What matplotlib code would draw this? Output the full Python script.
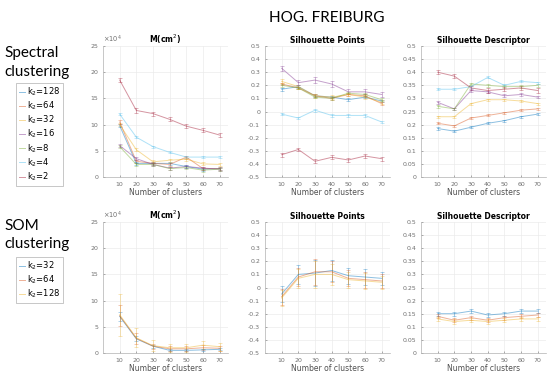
import numpy as np
from matplotlib import pyplot as plt

plt.rcParams['font.family'] = ['DejaVu Sans']

clusters = [10, 20, 30, 40, 50, 60, 70]

spec_labels = ['k$_2$=128', 'k$_2$=64', 'k$_2$=32', 'k$_2$=16', 'k$_2$=8', 'k$_2$=4', 'k$_2$=2']
som_labels = ['k$_2$=32', 'k$_2$=64', 'k$_2$=128']

# spectral clustering, M in units of 1e4 cm^2
spec_mass = [
    [9.8, 2.6, 2.6, 2.6, 2.0, 1.5, 1.6],
    [10.5, 3.0, 2.6, 2.4, 3.8, 1.6, 1.6],
    [10.0, 5.2, 2.9, 3.2, 3.4, 2.5, 2.4],
    [6.0, 3.5, 2.4, 1.7, 2.0, 1.7, 1.5],
    [5.8, 2.4, 2.4, 1.6, 1.8, 1.3, 1.5],
    [12.0, 7.6, 5.8, 4.7, 3.8, 3.8, 3.8],
    [18.5, 12.7, 12.1, 11.0, 9.7, 8.9, 8.0],
]
spec_mass_err = [0.3, 0.3, 0.3, 0.3, 0.3, 0.2, 0.4]

spec_points = [
    [0.17, 0.19, 0.12, 0.11, 0.09, 0.11, 0.08],
    [0.21, 0.18, 0.12, 0.10, 0.13, 0.12, 0.06],
    [0.23, 0.19, 0.12, 0.11, 0.13, 0.11, 0.07],
    [0.33, 0.22, 0.24, 0.21, 0.15, 0.15, 0.13],
    [0.20, 0.18, 0.11, 0.10, 0.14, 0.13, 0.09],
    [-0.02, -0.05, 0.01, -0.03, -0.03, -0.03, -0.08],
    [-0.33, -0.29, -0.38, -0.35, -0.37, -0.34, -0.36],
]
spec_points_err = [0.01, 0.01, 0.015, 0.02, 0.01, 0.01, 0.015]

spec_desc = [
    [0.185, 0.175, 0.19, 0.205, 0.215, 0.23, 0.24],
    [0.205, 0.195, 0.225, 0.235, 0.245, 0.255, 0.26],
    [0.23, 0.23, 0.28, 0.295, 0.295, 0.29, 0.28],
    [0.285, 0.26, 0.33, 0.325, 0.31, 0.315, 0.305],
    [0.27, 0.26, 0.355, 0.35, 0.345, 0.345, 0.35],
    [0.335, 0.335, 0.345, 0.38, 0.35, 0.365, 0.36],
    [0.40, 0.385, 0.34, 0.33, 0.335, 0.34, 0.33],
]
spec_desc_err = [0.004, 0.004, 0.004, 0.005, 0.005, 0.004, 0.008]

# SOM clustering
som_mass = [
    [7.0, 2.7, 1.3, 0.5, 0.5, 0.6, 0.7],
    [7.1, 2.8, 1.3, 0.8, 0.8, 1.0, 0.9],
    [7.3, 2.9, 1.4, 1.0, 1.0, 1.5, 1.2],
]
som_mass_err = [
    [0.8, 0.5, 0.3, 0.2, 0.2, 0.2, 0.2],
    [2.0, 1.0, 0.5, 0.5, 0.5, 0.5, 0.5],
    [4.0, 1.8, 1.0, 0.8, 0.8, 0.8, 0.8],
]
som_points = [
    [-0.05, 0.10, 0.11, 0.13, 0.09, 0.08, 0.07],
    [-0.07, 0.08, 0.12, 0.12, 0.07, 0.06, 0.05],
    [-0.08, 0.07, 0.10, 0.10, 0.06, 0.05, 0.04],
]
som_points_err = [0.06, 0.07, 0.1, 0.08, 0.06, 0.06, 0.05]
som_desc = [
    [0.15, 0.15, 0.16, 0.145, 0.15, 0.16, 0.16],
    [0.14, 0.125, 0.135, 0.125, 0.135, 0.14, 0.145],
    [0.13, 0.12, 0.125, 0.12, 0.125, 0.13, 0.13],
]
som_desc_err = [0.008, 0.008, 0.008, 0.008, 0.008, 0.008, 0.008]

matlab_cols = [(0, 0.447, 0.741), (0.85, 0.325, 0.098), (0.929, 0.694, 0.125),
               (0.494, 0.184, 0.556), (0.466, 0.674, 0.188), (0.301, 0.745, 0.933),
               (0.635, 0.078, 0.184)]


def panel(ax, series, errs, title, ylim, yticks, ytl=None, sci=False):
    handles = []
    for i, ys in enumerate(series):
        h = ax.errorbar(clusters, ys, yerr=errs[i], color=matlab_cols[i], alpha=0.45,
                        lw=0.7, elinewidth=0.5, capsize=1.2, capthick=0.5)
        handles.append(h)
    ax.set_xlim(0, 75)
    ax.set_ylim(*ylim)
    ax.set_xticks(clusters)
    ax.set_yticks(yticks)
    if ytl is not None:
        ax.set_yticklabels(ytl)
    ax.grid(True, color='#ebebeb', lw=0.5)
    ax.set_axisbelow(True)
    for s in ['top', 'right']:
        ax.spines[s].set_visible(False)
    for s in ['left', 'bottom']:
        ax.spines[s].set_color('#b0b0b0')
        ax.spines[s].set_linewidth(0.5)
    ax.tick_params(labelsize=4.5, colors='#707070', direction='in', length=1.5, width=0.4)
    ax.set_title(title, fontsize=5.5, fontweight='bold', pad=2)
    ax.set_xlabel('Number of clusters', fontsize=5.5, color='#505050', labelpad=1)
    if sci:
        ax.text(0, 1.01, '×10$^4$', transform=ax.transAxes, fontsize=4.8,
                color='#707070', va='bottom', ha='left')
    return handles


fig = plt.figure(figsize=(5.5, 3.72), dpi=100)

lefts = [103 / 550, 265 / 550, 421 / 550]
w = 125 / 550
h = 131 / 372
top_b = 1 - 177 / 372
bot_b = 1 - 353 / 372

pts_ticks = [-0.5, -0.4, -0.3, -0.2, -0.1, 0, 0.1, 0.2, 0.3, 0.4, 0.5]
pts_tl = ['-0.5', '-0.4', '-0.3', '-0.2', '-0.1', '0', '0.1', '0.2', '0.3', '0.4', '0.5']
desc_ticks = [0, 0.05, 0.1, 0.15, 0.2, 0.25, 0.3, 0.35, 0.4, 0.45, 0.5]
desc_tl = ['0', '0.05', '0.1', '0.15', '0.2', '0.25', '0.3', '0.35', '0.4', '0.45', '0.5']

ax1 = fig.add_axes([lefts[0], top_b, w, h])
hs = panel(ax1, spec_mass, [[e] * 7 for e in spec_mass_err], 'M(cm$^2$)', (0, 25),
           [0, 5, 10, 15, 20, 25], sci=True)
ax2 = fig.add_axes([lefts[1], top_b, w, h])
panel(ax2, spec_points, [[e] * 7 for e in spec_points_err], 'Silhouette Points',
      (-0.5, 0.5), pts_ticks, pts_tl)
ax3 = fig.add_axes([lefts[2], top_b, w, h])
panel(ax3, spec_desc, [[e] * 7 for e in spec_desc_err], 'Silhouette Descriptor',
      (0, 0.5), desc_ticks, desc_tl)

ax4 = fig.add_axes([lefts[0], bot_b, w, h])
hs2 = panel(ax4, som_mass, som_mass_err, 'M(cm$^2$)', (0, 25),
            [0, 5, 10, 15, 20, 25], sci=True)
ax5 = fig.add_axes([lefts[1], bot_b, w, h])
panel(ax5, som_points, [som_points_err] * 3, 'Silhouette Points',
      (-0.5, 0.5), pts_ticks, pts_tl)
ax6 = fig.add_axes([lefts[2], bot_b, w, h])
panel(ax6, som_desc, [som_desc_err] * 3, 'Silhouette Descriptor',
      (0, 0.5), desc_ticks, desc_tl)

fig.text(327 / 550, 1 - 18 / 372, 'HOG. FREIBURG', fontsize=11, family='Lato',
         ha='center', va='center')
fig.text(4 / 550, 1 - 53 / 372, 'Spectral', fontsize=11, family='Lato', va='center')
fig.text(4 / 550, 1 - 72 / 372, 'clustering', fontsize=11, family='Lato', va='center')
fig.text(4 / 550, 1 - 226 / 372, 'SOM', fontsize=11, family='Lato', va='center')
fig.text(4 / 550, 1 - 244 / 372, 'clustering', fontsize=11, family='Lato', va='center')

leg_kw = dict(fontsize=6, handlelength=0.8, handletextpad=0.25, labelspacing=0.2,
              borderpad=0.3, borderaxespad=0, fancybox=False, edgecolor='#b0b0b0',
              framealpha=1, loc='upper left')
lg1 = fig.legend([hh[0] for hh in hs], spec_labels,
                 bbox_to_anchor=(16 / 550, 1 - 83 / 372), **leg_kw)
lg1.get_frame().set_linewidth(0.5)
lg2 = fig.legend([hh[0] for hh in hs2], som_labels,
                 bbox_to_anchor=(16 / 550, 1 - 257 / 372), **leg_kw)
lg2.get_frame().set_linewidth(0.5)

plt.savefig('out.png', dpi=100)
plt.close()
